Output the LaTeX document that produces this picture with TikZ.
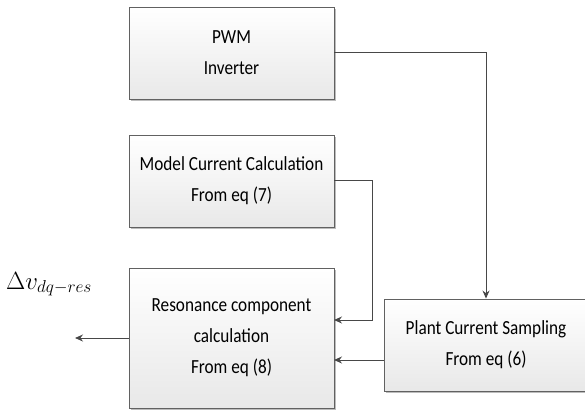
\documentclass[tikz,border=0pt]{standalone}
\usepackage{fontspec}
\setmainfont{Carlito}[FakeStretch=0.86]
\usetikzlibrary{arrows.meta,shadows}
\begin{document}
\begin{tikzpicture}[x=1pt,y=-1pt,
  blk/.style={draw=black!62, line width=0.9pt, top color=white, bottom color=black!9,
    drop shadow={shadow xshift=1.6pt, shadow yshift=-1.8pt, fill=black!35, opacity=0.75},
    font=\fontsize{20}{31}\selectfont, align=center, inner sep=0pt},
  arr/.style={draw=black!72, line width=1pt, -{Stealth[length=8pt,width=7pt]}}]
\useasboundingbox (0,0) rectangle (585,411);
\node[blk, minimum width=205pt, minimum height=92pt] (pwm) at (231.5,53) {PWM\\Inverter};
\node[blk, minimum width=205pt, minimum height=92pt] (model) at (231.5,181) {Model Current Calculation\\From eq (7)};
\node[blk, minimum width=205pt, minimum height=140pt] (res) at (231.5,338) {Resonance component\\calculation\\From eq (8)};
\node[blk, minimum width=204pt, minimum height=92pt] (plant) at (486,345) {Plant Current Sampling\\From eq (6)};
\node[anchor=base west, inner sep=0pt, font=\fontsize{25}{28}\selectfont] (lbl) at (6,289) {$\Delta v_{dq-res}$};
\coordinate (rin1) at (334,320);
\coordinate (rin2) at (334,360);
\coordinate (out) at (75,338);
\draw[arr] (pwm.east) -| (plant.north);
\draw[arr] (model.east) -- ++(38,0) |- (rin1);
\draw[arr] (plant.west |- rin2) -- (rin2);
\draw[arr] (res.west) -- (out);
\end{tikzpicture}
\end{document}
